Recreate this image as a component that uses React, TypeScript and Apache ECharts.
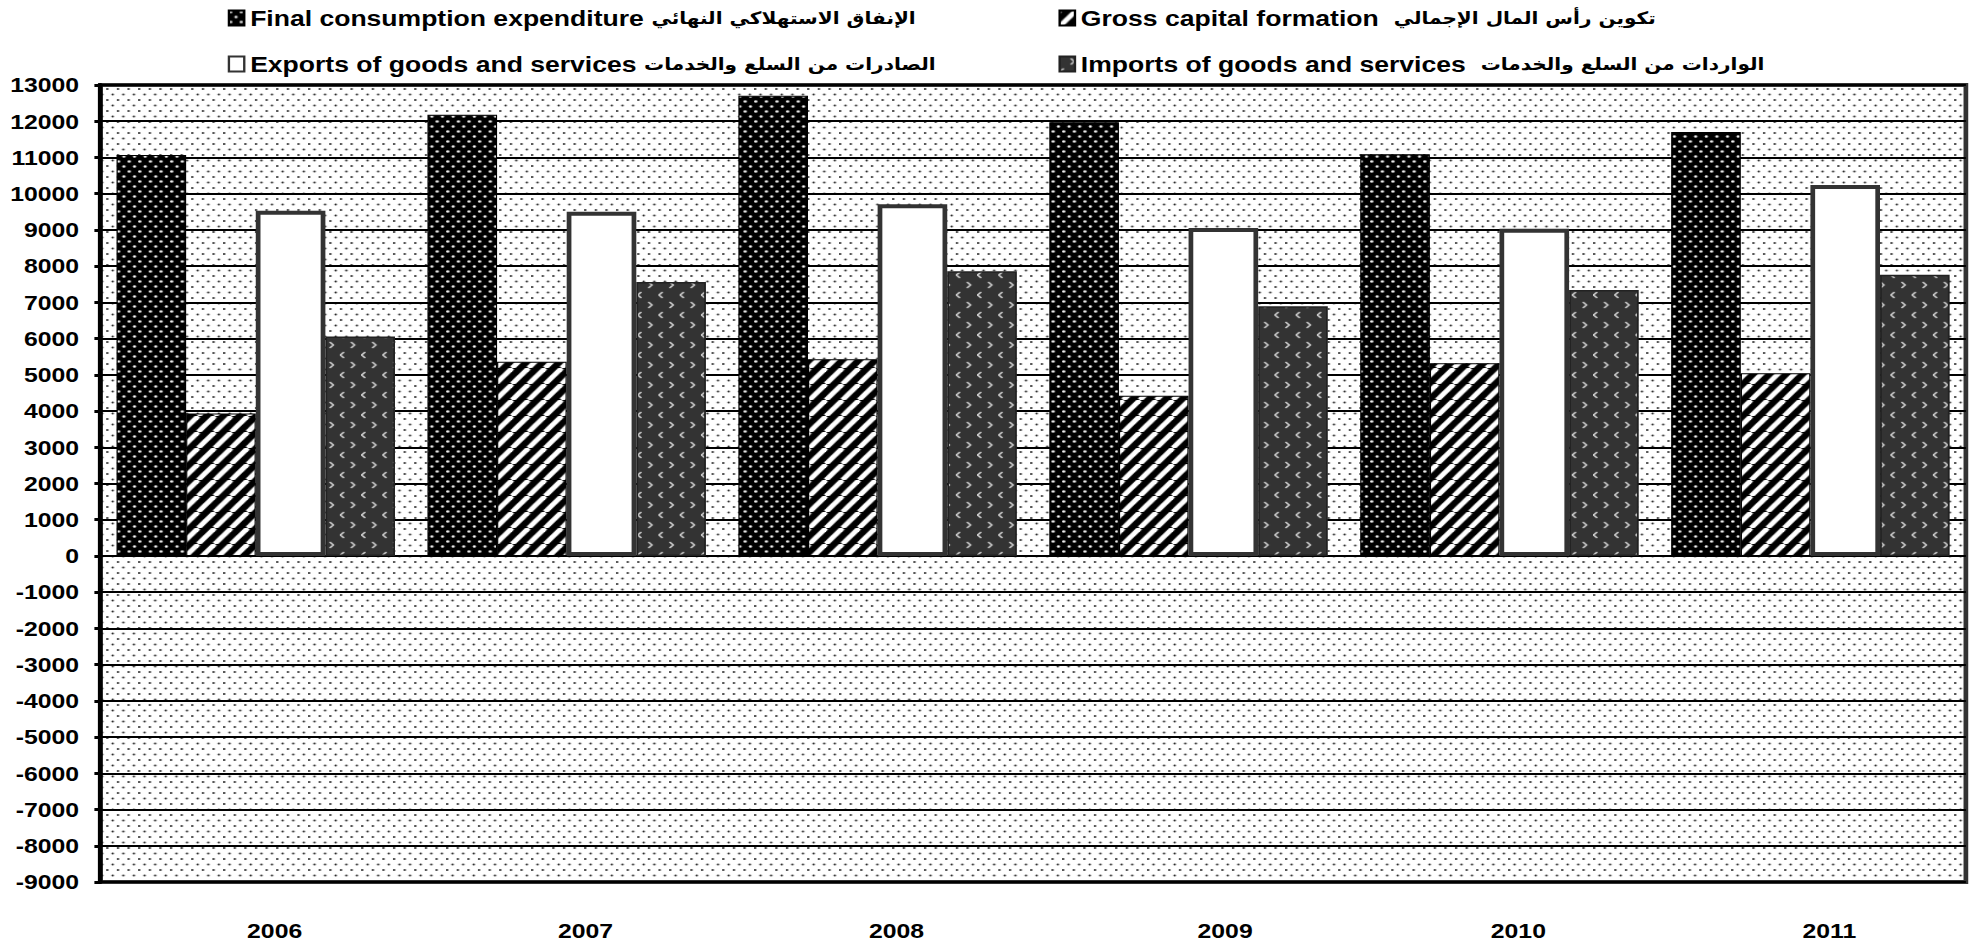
import React, { useEffect, useRef } from 'react';
import * as echarts from 'echarts';

const years = ['2006', '2007', '2008', '2009', '2010', '2011'];
const finalConsumption = [11070, 12180, 12700, 11970, 11090, 11700];
const grossCapital = [3930, 5360, 5430, 4420, 5320, 5045];
const exportsGS = [9530, 9500, 9710, 9050, 9030, 10240];
const importsGS = [6055, 7560, 7860, 6895, 7340, 7760];
const seriesNames = [
  'Final consumption expenditure الإنفاق الاستهلاكي النهائي',
  'Gross capital formation  تكوين رأس المال الإجمالي',
  'Exports of goods and services الصادرات من السلع والخدمات',
  'Imports of goods and services  الواردات من السلع والخدمات',
];
const yMin = -9000;
const yMax = 13000;
const yStep = 1000;

const S = 1.18; // horizontal stretch of the reference
const W = 1673;
const H = 945;
const FONT = "'Liberation Sans', Arial, 'DejaVu Sans', sans-serif";
const AR_FONT = "'DejaVu Sans', 'Liberation Sans', sans-serif";

function tile(w: number, h: number, draw: (ctx: CanvasRenderingContext2D) => void) {
  const c = document.createElement('canvas');
  c.width = w;
  c.height = h;
  const ctx = c.getContext('2d') as CanvasRenderingContext2D;
  draw(ctx);
  return { image: c, repeat: 'repeat' } as any;
}

function dot(ctx: CanvasRenderingContext2D, x: number, y: number, r: number) {
  ctx.beginPath();
  ctx.arc(x, y, r, 0, Math.PI * 2);
  ctx.fill();
}

function legendLabel(name: string) {
  const idx = name.search(/[\u0600-\u06FF]/);
  if (idx < 0) return `{en|${name}}`;
  return `{en|${name.slice(0, idx)}}{ar|${name.slice(idx)}}`;
}

export default function App() {
  const ref = useRef<HTMLDivElement>(null);
  useEffect(() => {
    document.body.style.overflow = 'hidden';
    const chart = echarts.init(ref.current as HTMLDivElement, null, { renderer: 'svg' });

    const bgPattern = tile(9, 11, (ctx) => {
      ctx.fillStyle = '#fff';
      ctx.fillRect(0, 0, 9, 11);
      ctx.fillStyle = '#111';
      dot(ctx, 1, 1, 0.95);
      dot(ctx, 5.5, 6.5, 0.95);
    });
    const fcePattern = tile(9, 10, (ctx) => {
      ctx.fillStyle = '#000';
      ctx.fillRect(0, 0, 9, 10);
      ctx.fillStyle = '#fff';
      dot(ctx, 1.5, 1.5, 1.3);
      dot(ctx, 6, 6.5, 1.3);
    });
    const gcfPattern = tile(14, 16, (ctx) => {
      ctx.fillStyle = '#000';
      ctx.fillRect(0, 0, 14, 16);
      ctx.strokeStyle = '#fff';
      ctx.lineWidth = 4.5;
      for (let k = -1; k <= 1; k++) {
        ctx.beginPath();
        ctx.moveTo(k * 14, 16);
        ctx.lineTo(k * 14 + 14, 0);
        ctx.stroke();
      }
    });
    const impPattern = tile(18, 20, (ctx) => {
      ctx.fillStyle = '#333';
      ctx.fillRect(0, 0, 18, 20);
      ctx.strokeStyle = '#ddd';
      ctx.lineWidth = 1.4;
      ctx.beginPath();
      ctx.moveTo(9.5, 2);
      ctx.lineTo(12.5, 5);
      ctx.lineTo(9.5, 8);
      ctx.stroke();
      ctx.beginPath();
      ctx.moveTo(3.5, 12);
      ctx.lineTo(0.5, 15);
      ctx.lineTo(3.5, 18);
      ctx.stroke();
    });

    const legendBase = {
      orient: 'vertical',
      top: 6,
      padding: 0,
      itemGap: 22,
      itemWidth: 13,
      itemHeight: 15,
      icon: 'rect',
      selectedMode: false,
      formatter: legendLabel,
      textStyle: {
        fontFamily: FONT,
        fontWeight: 'bold',
        fontSize: 22.5,
        color: '#000',
        lineHeight: 24,
        rich: {
          en: { fontFamily: FONT, fontWeight: 'bold', fontSize: 22.5, color: '#000', lineHeight: 24 },
          ar: { fontFamily: AR_FONT, fontWeight: 'bold', fontSize: 17, color: '#000', lineHeight: 24 },
        },
      },
    };

    chart.setOption({
      animation: false,
      legend: [
        {
          ...legendBase,
          left: 193,
          data: [
            { name: seriesNames[0] },
            { name: seriesNames[2], itemStyle: { borderWidth: 2, borderColor: '#333' } },
          ],
        },
        {
          ...legendBase,
          left: 897,
          data: [{ name: seriesNames[1] }, { name: seriesNames[3] }],
        },
      ],
      grid: {
        left: 85,
        right: 7,
        top: 85,
        bottom: 63,
        show: true,
        backgroundColor: bgPattern,
        borderColor: '#333',
        borderWidth: 4,
        containLabel: false,
      },
      xAxis: {
        type: 'category',
        data: years,
        position: 'bottom',
        axisLine: { show: false, onZero: false },
        axisTick: { show: false },
        axisLabel: {
          interval: 0,
          margin: 38,
          color: '#000',
          fontFamily: FONT,
          fontWeight: 'bold',
          fontSize: 21,
          formatter: (v: string) => (v === '2009' ? `{b|${v}}` : `{a|${v}}`),
          rich: {
            a: { padding: [0, 0, 0, 32], fontFamily: FONT, fontWeight: 'bold', fontSize: 21, color: '#000' },
            b: { padding: [0, 0, 0, 62], fontFamily: FONT, fontWeight: 'bold', fontSize: 21, color: '#000' },
          },
        },
        splitLine: { show: false },
      },
      yAxis: {
        type: 'value',
        min: yMin,
        max: yMax,
        interval: yStep,
        axisLine: { show: true, lineStyle: { color: '#000', width: 4 } },
        axisTick: { show: true, length: 5, lineStyle: { color: '#000', width: 3 } },
        axisLabel: {
          margin: 18,
          color: '#000',
          fontFamily: FONT,
          fontWeight: 'bold',
          fontSize: 21,
          formatter: (v: number) => String(v),
        },
        splitLine: { show: true, lineStyle: { color: '#000', width: 2 } },
      },
      series: [
        {
          name: seriesNames[0],
          type: 'bar',
          data: finalConsumption,
          barWidth: 59,
          barGap: '0%',
          itemStyle: { color: fcePattern, borderColor: '#000', borderWidth: 1 },
        },
        {
          name: seriesNames[1],
          type: 'bar',
          data: grossCapital,
          barWidth: 59,
          barGap: '0%',
          itemStyle: { color: gcfPattern, borderColor: '#000', borderWidth: 1 },
        },
        {
          name: seriesNames[2],
          type: 'bar',
          data: exportsGS,
          barWidth: 59,
          barGap: '0%',
          itemStyle: { color: '#fff', borderColor: '#333', borderWidth: 4 },
        },
        {
          name: seriesNames[3],
          type: 'bar',
          data: importsGS,
          barWidth: 59,
          barGap: '0%',
          itemStyle: { color: impPattern, borderColor: '#222', borderWidth: 1.5 },
        },
      ],
    });
    return () => chart.dispose();
  }, []);

  return (
    <div
      ref={ref}
      style={{
        position: 'absolute',
        left: 0,
        top: 0,
        width: W,
        height: H,
        transform: `scaleX(${S})`,
        transformOrigin: '0 0',
      }}
    />
  );
}
